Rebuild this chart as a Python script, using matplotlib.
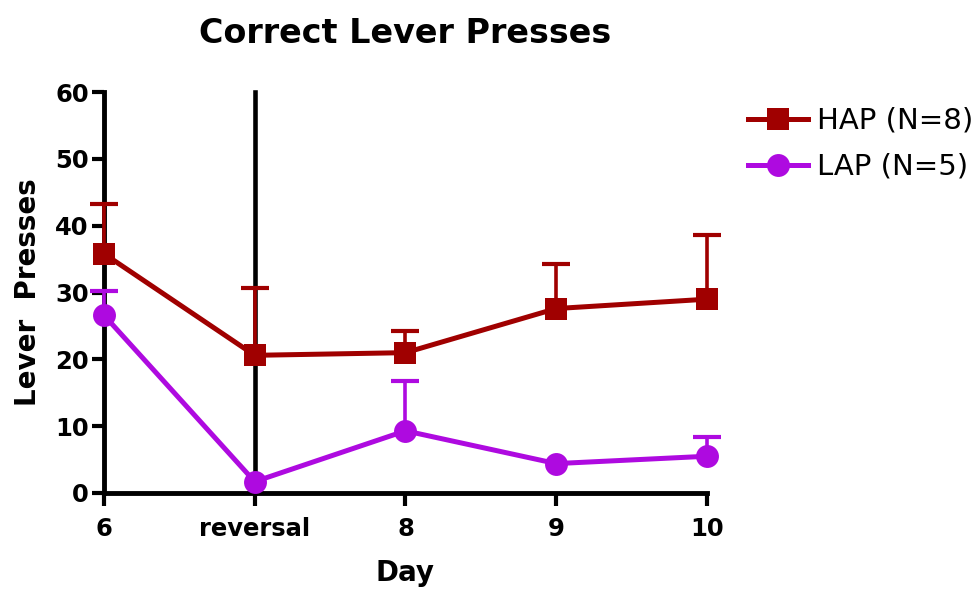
import matplotlib
matplotlib.use("Agg")
import matplotlib.pyplot as plt
import numpy as np

days = ["6", "reversal", "8", "9", "10"]
hap_mean = [35.8, 20.6, 21.0, 27.6, 29.0]
hap_sem = [7.4, 10.0, 3.3, 6.7, 9.6]
lap_mean = [26.6, 1.7, 9.3, 4.4, 5.5]
lap_sem = [3.6, 0.0, 7.4, 0.0, 2.9]

hap_color = "#A00000"
lap_color = "#AE0AE0"

plt.rcParams["font.family"] = ["DejaVu Sans"]

fig = plt.figure(figsize=(9.79, 5.9), dpi=100)
ax = fig.add_axes([104 / 979, 97 / 590, 603 / 979, 401 / 590])

x = np.arange(len(days))

# reversal marker line
ax.plot([1, 1], [0, 60], color="black", lw=3.3, zorder=2, clip_on=False)


def draw_group(mean, sem, color, marker, label):
    mean = np.array(mean)
    sem = np.array(sem)
    keep = sem > 0
    top = mean[keep] + sem[keep]
    # upper error bars only: stem + cap
    ax.vlines(x[keep], mean[keep], top, color=color, lw=2.6, zorder=3,
              clip_on=False)
    ax.plot(x[keep], top, ls="none", marker="_", markersize=19.5,
            markeredgewidth=3, color=color, zorder=3, clip_on=False)
    ax.plot(x, mean, color=color, lw=3.6, marker=marker, markersize=16.5,
            markeredgewidth=0, label=label, zorder=4, clip_on=False)


draw_group(hap_mean, hap_sem, hap_color, "s", "HAP (N=8)")
draw_group(lap_mean, lap_sem, lap_color, "o", "LAP (N=5)")

ax.set_xlim(0, 4)
ax.set_ylim(0, 60)
ax.set_xticks(x)
ax.set_xticklabels(days)
ax.set_yticks(np.arange(0, 61, 10))

for side in ["top", "right"]:
    ax.spines[side].set_visible(False)
for side in ["left", "bottom"]:
    ax.spines[side].set_linewidth(3.5)
    ax.spines[side].set_capstyle("projecting")

ax.tick_params(axis="both", length=9, width=3, labelsize=17.5)
ax.tick_params(axis="x", pad=8)
ax.tick_params(axis="y", pad=2)
for lbl in ax.get_xticklabels() + ax.get_yticklabels():
    lbl.set_fontweight("bold")

ax.set_title("Correct Lever Presses", fontsize=24, fontweight="bold", pad=35)
ax.set_xlabel("Day", fontsize=20, fontweight="bold")
ax.set_ylabel("Lever  Presses", fontsize=20, fontweight="bold")
ax.xaxis.set_label_coords(0.5, -0.165)
ax.yaxis.set_label_coords(-0.103, 0.5)

ax.legend(loc="upper left", bbox_to_anchor=(1.068, 0.963), frameon=False,
          fontsize=21, handlelength=2.07, handletextpad=0.3, borderpad=0,
          borderaxespad=0, labelspacing=0.62)

fig.savefig("out.png", dpi=100)
